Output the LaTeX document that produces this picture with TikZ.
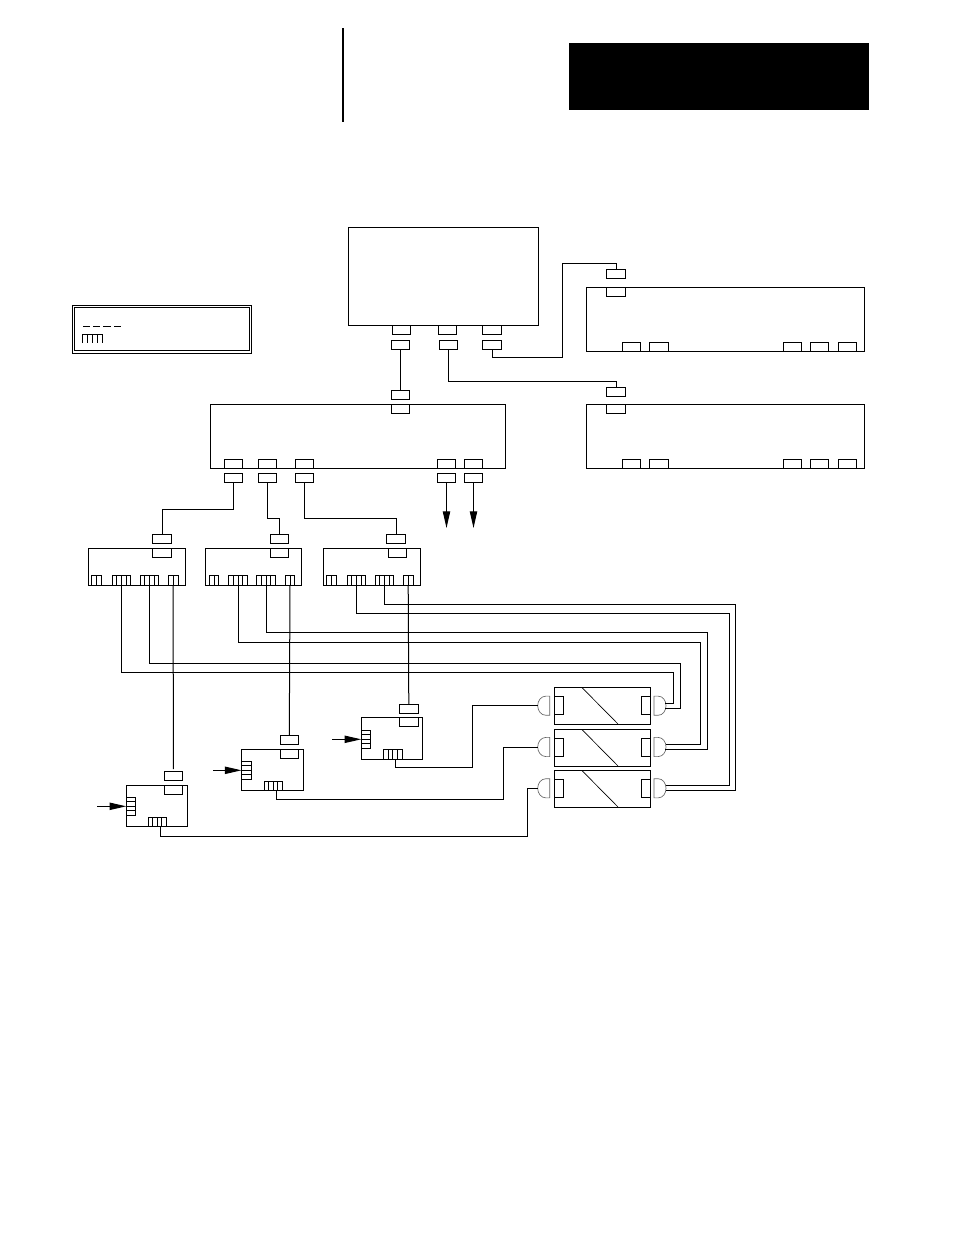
\documentclass[tikz,border=0pt]{standalone}
\usepackage{amsmath, amssymb, amsthm}
\usetikzlibrary{arrows.meta, calc}

\tikzset{
  box/.style 2 args={draw, inner sep=0, outer sep=0, minimum width=#1*.75pt, minimum height=#2*.75pt},
  plug/.style={box={18.6}{9.3}},
  combtwo/.style={box={9.8}{9.3}, path picture={
    \draw ($(path picture bounding box.south)$) -- (path picture bounding box.north);}},
  combfour/.style={box={18.6}{9.3}, path picture={
    \foreach \k in {0.25,0.5,0.75}
      \draw ($(path picture bounding box.south west)!\k!(path picture bounding box.south east)$)
        -- ($(path picture bounding box.north west)!\k!(path picture bounding box.north east)$);}},
  combside/.style={box={9.6}{18}, path picture={
    \foreach \k in {0.25,0.5,0.75}
      \draw ($(path picture bounding box.south west)!\k!(path picture bounding box.north west)$)
        -- ($(path picture bounding box.south east)!\k!(path picture bounding box.north east)$);}},
  shell/.style={line width=.5pt, black!60},
  feed/.style={-{Triangle[length=12.5pt, width=5.5pt]}}
}

\begin{document}
\begin{tikzpicture}[x=.75pt, y=-.75pt, line width=.75pt]
  \useasboundingbox (0, 0) rectangle (954, 1235);

  % page header
  \fill[black] (569, 43) rectangle (869, 110);
  \draw[line width=1.1pt] (343, 28) -- (343, 122);

  % legend
  \node[box={178.5}{48}] (legendout) at (161.8, 329.2) {};
  \node[box={175}{43.5}] (legendin) at (161.8, 329.2) {};
  \draw (83.3, 326) -- (90, 326) (93.3, 326) -- (100, 326) (103.3, 326) -- (110.7, 326) (114, 326) -- (121, 326);
  \draw (82.3, 343) |- (102, 334.3) -- (102, 343) (87.2, 334.3) -- (87.2, 343) (92.1, 334.3) -- (92.1, 343) (97, 334.3) -- (97, 343);

  % large units
  \node[box={190}{98}] (topunit) at (443, 276) {};
  \node[box={278}{64}] (rackA) at (725, 319) {};
  \node[box={278}{64}] (rackB) at (725, 436) {};
  \node[box={295}{64}] (midunit) at (357.5, 436) {};

  % ports and plugs of the top unit
  \node[plug] (topa) at (401.5, 329.8) {};
  \node[plug] (topb) at (447.5, 329.8) {};
  \node[plug] (topc) at (492, 329.8) {};
  \node[plug] (pa) at (400.5, 345) {};
  \node[plug] (pb) at (448.5, 345) {};
  \node[plug] (pc) at (492, 345) {};

  % racks
  \node[plug] (rackAtop) at (616, 291.7) {};
  \node[plug] (pA) at (616, 273.7) {};
  \node[plug] (rackBtop) at (616, 409) {};
  \node[plug] (pB) at (616, 392) {};
  \foreach \rack/\yy in {A/346.7, B/463.7}
    \foreach \n/\xx in {1/631.5, 2/659, 3/792.5, 4/819.5, 5/847.5}
      \node[plug] (rack\rack\n) at (\xx, \yy) {};

  % middle unit
  \node[plug] (midtop) at (400.5, 409) {};
  \node[plug] (pm) at (400.5, 395) {};
  \foreach \n/\xx in {1/233.5, 2/267.3, 3/304.3, 4/446.5, 5/473.5} {
    \node[plug] (mid\n) at (\xx, 463.8) {};
    \node[plug] (pm\n) at (\xx, 478) {};
  }

  % three small modules
  \node[box={97}{37}] (modA) at (137, 566.5) {};
  \node[box={95.6}{37}] (modB) at (253.5, 566.5) {};
  \node[box={97}{37}] (modC) at (371.8, 566.5) {};
  \foreach \m/\xx/\xp in {A/162/162, B/279.5/279.5, C/397.5/396.2} {
    \node[plug] (mod\m top) at (\xx, 553) {};
    \node[plug] (pmod\m) at (\xp, 539) {};
  }
  \foreach \m/\xa/\xb/\xc/\xd in {A/96.5/121.5/149.5/173.2, B/214/238/266/290, C/331.8/356.5/384.5/408.2} {
    \node[combtwo] (mod\m a) at (\xa, 580.5) {};
    \node[combfour] (mod\m b) at (\xb, 580.5) {};
    \node[combfour] (mod\m c) at (\xc, 580.5) {};
    \node[combtwo] (mod\m d) at (\xd, 580.5) {};
  }

  % three feeders
  \node[box={61}{41}] (feedA) at (156.8, 805.8) {};
  \node[box={62}{41}] (feedB) at (272.3, 769.8) {};
  \node[box={61}{42}] (feedC) at (391.8, 738.3) {};
  \node[plug] (feedAtop) at (173.3, 789.8) {};
  \node[plug] (pfeedA) at (173.3, 775.8) {};
  \node[plug] (feedBtop) at (289.3, 753.8) {};
  \node[plug] (pfeedB) at (289.3, 739.8) {};
  \node[plug] (feedCtop) at (408.8, 721.8) {};
  \node[plug] (pfeedC) at (408.8, 708.8) {};
  \node[combside] (sideA) at (131, 806.3) {};
  \node[combside] (sideB) at (246.3, 770.3) {};
  \node[combside] (sideC) at (366, 739.3) {};
  \node[combfour] (lowA) at (157.3, 821.8) {};
  \node[combfour] (lowB) at (273.3, 785.8) {};
  \node[combfour] (lowC) at (392.8, 754.6) {};
  \coordinate (outA) at (160.3, 826.3);
  \coordinate (outB) at (276, 790.3);
  \coordinate (outC) at (395.3, 759.3);

  % drives with their round plugs
  \foreach \n/\yc/\ya in {1/705.7/687.3, 2/747/729.3, 3/788.3/770.3} {
    \node[box={96}{36.7}, anchor=north west] (drive\n) at (554.3, \ya) {};
    \draw[line width=.5pt] (581.7, \ya) -- (618, \ya+36.7);
    \draw (554.3, \yc-9) -| (563.7, \yc+9) -- (554.3, \yc+9);
    \draw (650.3, \yc-9) -| (641.3, \yc+9) -- (650.3, \yc+9);
    \draw[shell] (549.7, \yc-9.6) -- (546, \yc-9.6) .. controls (541, \yc-9.6) and (537.7, \yc-5) .. (537.7, \yc)
      .. controls (537.7, \yc+5) and (541, \yc+9.6) .. (546, \yc+9.6) -- (549.7, \yc+9.6) -- cycle;
    \draw[shell] (654, \yc-9.6) -- (658, \yc-9.6) .. controls (663, \yc-9.6) and (666, \yc-5) .. (666, \yc)
      .. controls (666, \yc+5) and (663, \yc+9.6) .. (658, \yc+9.6) -- (654, \yc+9.6) -- cycle;
    \coordinate (in\n) at (538, \yc);
  }
  \coordinate (ra) at (665, 703.3);
  \coordinate (rb) at (664.5, 708.3);
  \coordinate (rc) at (665.5, 744.3);
  \coordinate (rd) at (665, 749.3);
  \coordinate (re) at (666, 785.3);
  \coordinate (rf) at (665.5, 790);

  % cables
  \draw (pa.south) -- (pm.north);
  \draw (pb.south) |- (616, 381.3) -- (pB.north);
  \draw (pc.south) |- (562.3, 357.3) |- (616, 263.7) -- (pA.north);
  \draw (pm1.south) |- (162, 509.3) -- (pmodA.north);
  \draw (pm2.south) |- (279.5, 518.3) -- (pmodB.north);
  \draw (pm3.south) |- (396.2, 518.3) -- (pmodC.north);
  \coordinate (endd) at (446.5, 528);
  \coordinate (ende) at (473.5, 528);
  \draw[feed] (pm4.south) -- (endd);
  \draw[feed] (pm5.south) -- (ende);

  \draw (modAb.south) |- (673.7, 672.7) |- (ra);
  \draw (modAc.south) |- (680.3, 663.3) |- (rb);
  \draw (modBb.south) |- (700.7, 642.3) |- (rc);
  \draw (modBc.south) |- (707.3, 632.3) |- (rd);
  \draw (modCb.south) |- (729, 613.3) |- (re);
  \draw (modCc.south) |- (735.7, 604.3) |- (rf);

  \draw[shorten >=1.5pt] (modAd.south) -- (pfeedA.north);
  \draw (modBd.south) -- (pfeedB.north);
  \draw (modCd.south) -- (pfeedC.north);

  \draw (outA) |- (527, 836.3) |- (in3);
  \draw (outB) |- (503, 799.3) |- (in2);
  \draw (outC) |- (472, 767.3) |- (in1);

  \coordinate (startA) at (97.3, 806.3);
  \coordinate (startB) at (213.3, 770.3);
  \coordinate (startC) at (332, 739.3);
  \draw[feed] (startA) -- (sideA.west);
  \draw[feed] (startB) -- (sideB.west);
  \draw[feed] (startC) -- (sideC.west);
\end{tikzpicture}
\end{document}
